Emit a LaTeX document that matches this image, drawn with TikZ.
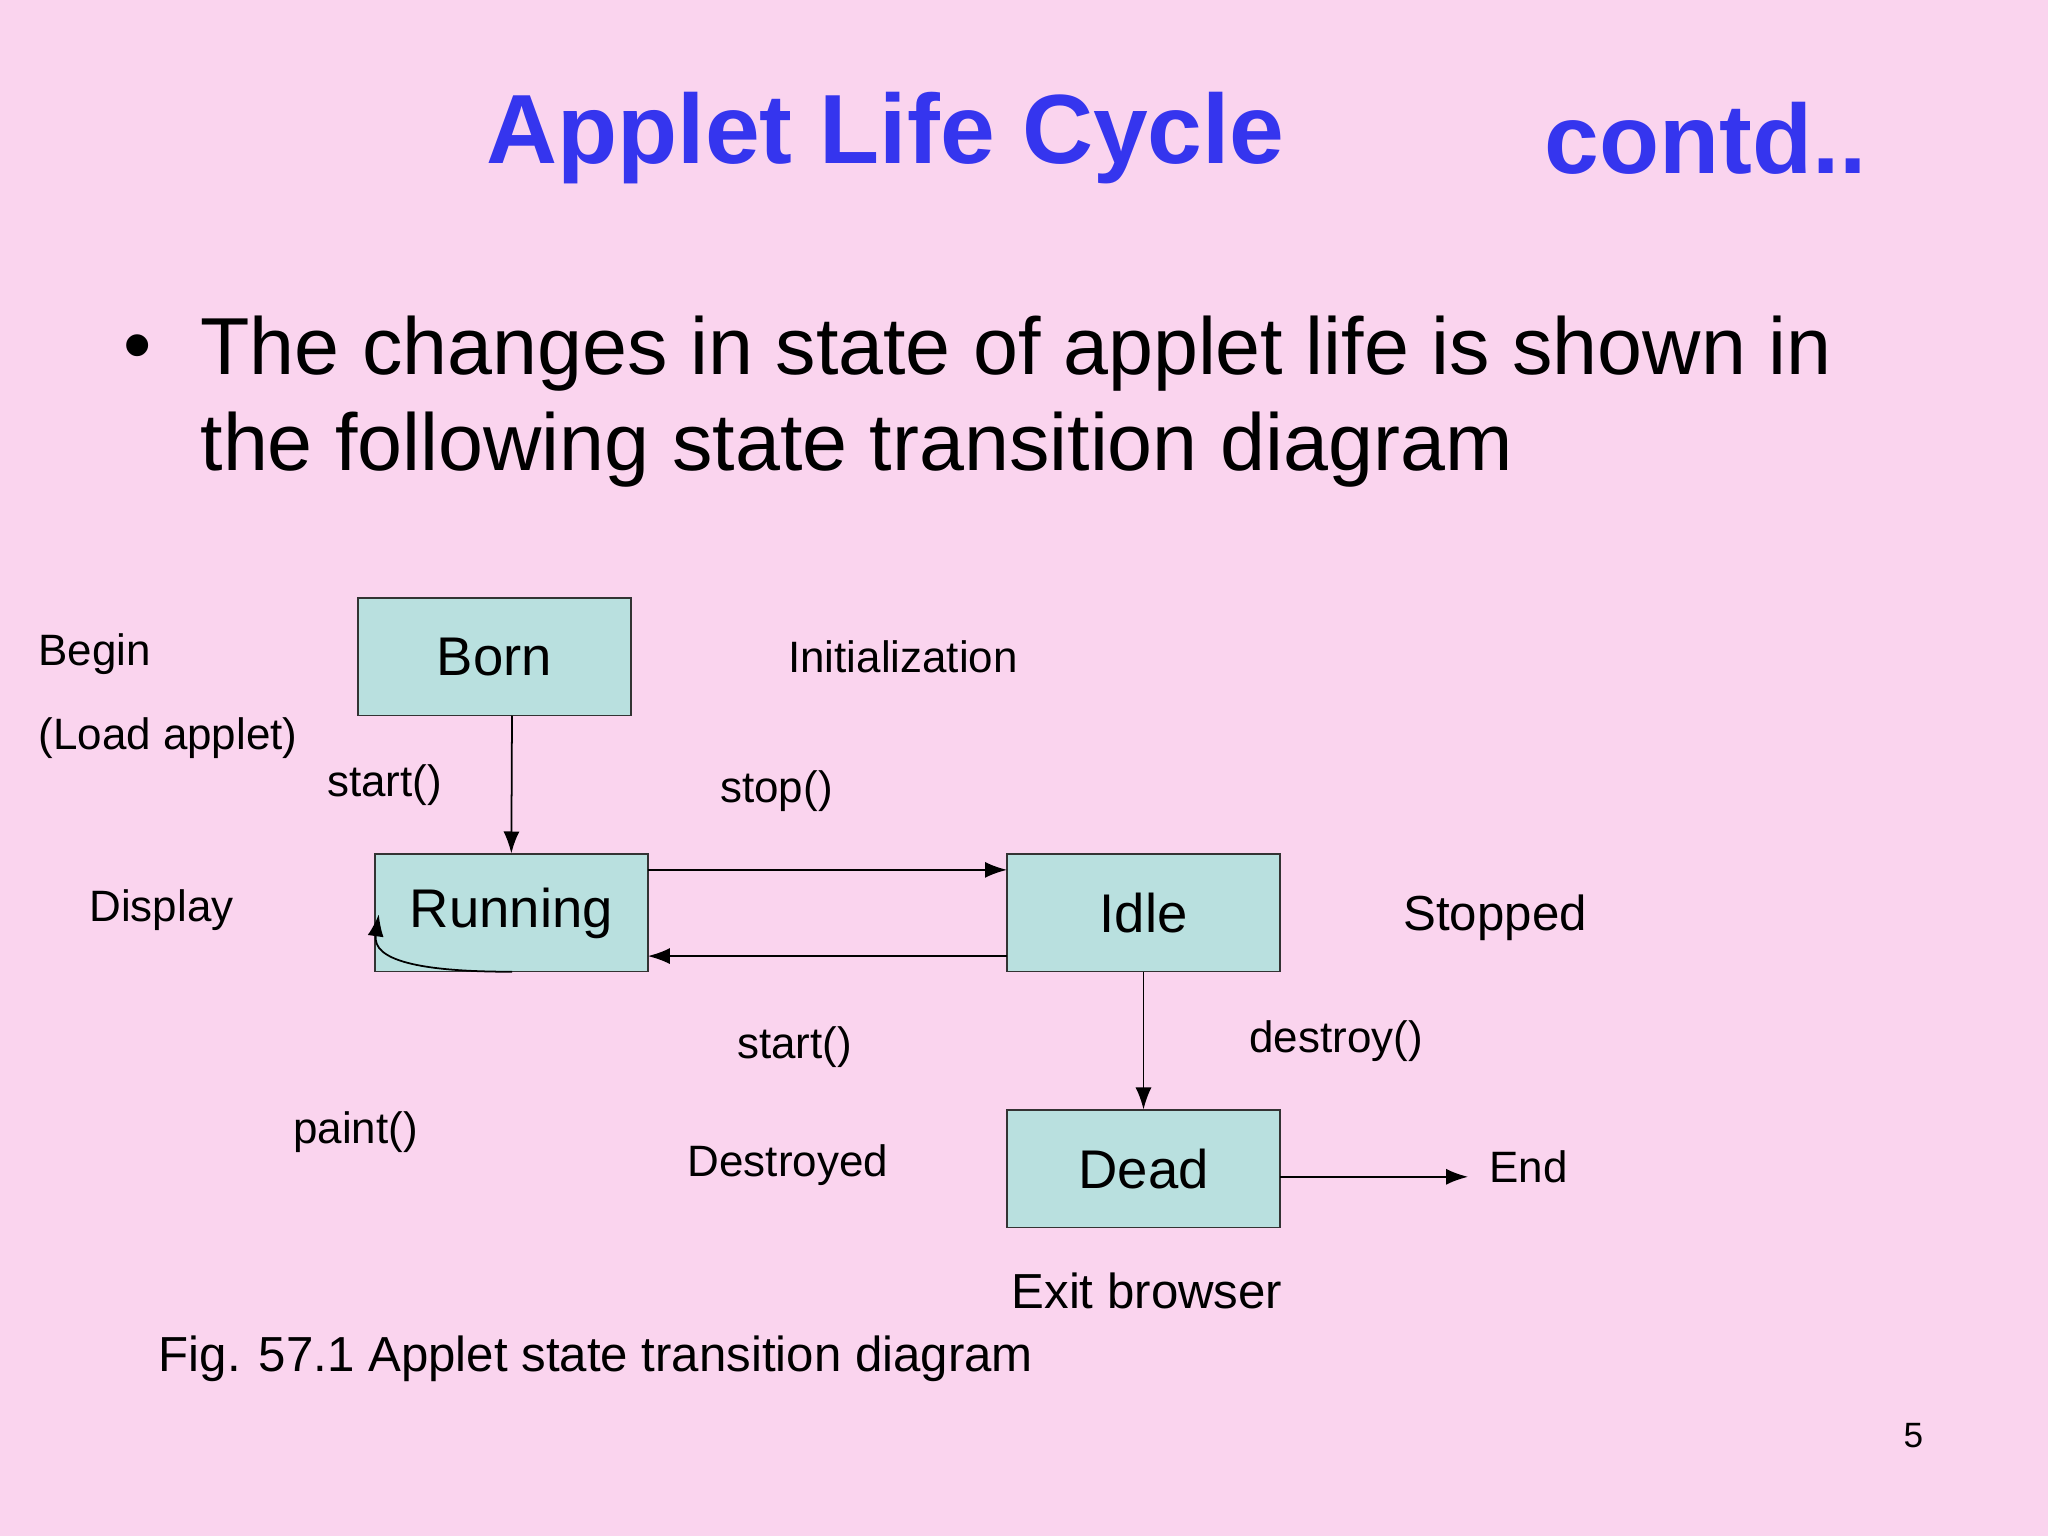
\documentclass[tikz,border=0pt]{standalone}
\usepackage{fontspec}
\setmainfont{Liberation Sans}
\usetikzlibrary{arrows.meta}
\definecolor{bg}{HTML}{FAD4EE}
\definecolor{boxfill}{HTML}{B9E0DF}
\definecolor{ttl}{HTML}{3535EE}
\tikzset{
 st/.style={draw=black!80,fill=boxfill,minimum width=209*0.013061cm,minimum height=90*0.013061cm,inner sep=0pt,font=\fontsize{15.5}{18}\selectfont},
 lbl/.style={anchor=west,inner sep=0pt,font=\fontsize{12.5}{15}\selectfont},
 arr/.style={-{Latex[length=2.2mm,width=1.6mm]},black,line width=0.5pt}
}
\begin{document}
\begin{tikzpicture}[x=0.013061cm,y=-0.013061cm]
\fill[bg] (0,0) rectangle (1568,1176);
\useasboundingbox (0,0) rectangle (1568,1176);
\node[font=\fontsize{28}{32}\selectfont\bfseries,text=ttl] (t1) at (678,106) {Applet Life Cycle};
\node[font=\fontsize{28}{32}\selectfont\bfseries,text=ttl] (t2) at (1306,106) {contd..};
\node[anchor=west,inner sep=0pt,font=\fontsize{23}{26}\selectfont] (b0) at (94,271) {•};
\node[anchor=west,inner sep=0pt,font=\fontsize{23}{26}\selectfont] (b1) at (153,271) {The changes in state of applet life is shown in};
\node[anchor=west,inner sep=0pt,font=\fontsize{23}{26}\selectfont] (b2) at (153,344) {the following state transition diagram};
\node[st] (born) at (378.5,503) {Born};
\node[st] (run) at (391.5,699) {Running};
\node[st] (idle) at (875.5,699) {Idle};
\node[st] (dead) at (875.5,895) {Dead};
\coordinate (end) at (1124,901);
\draw[arr] (392,548) -- (run.north);
\draw[arr] (496,666) -- (771,666);
\draw[arr] (771,732) -- (496,732);
\draw[arr] (idle.south) -- (dead.north);
\draw[arr] (980,901) -- (end);
\draw[arr] (392,744) .. controls (320,744) and (285,735) .. (290,700);
\node[lbl] (l1) at (29,501) {Begin};
\node[lbl] (l2) at (29,565) {(Load applet)};
\node[lbl] (l3) at (250,601) {start()};
\node[lbl] (l4) at (603,503) {Initialization};
\node[lbl] (l5) at (551,606) {stop()};
\node[lbl] (l6) at (68,697) {Display};
\node[lbl,font=\fontsize{14}{17}\selectfont] (l7) at (1074,703) {Stopped};
\node[lbl] (l8) at (564,802) {start()};
\node[lbl] (l9) at (956,797) {destroy()};
\node[lbl] (l10) at (224,867) {paint()};
\node[lbl] (l11) at (526,892) {Destroyed};
\node[lbl] (l12) at (1140,893) {End};
\node[lbl,font=\fontsize{14}{17}\selectfont] (l13) at (774,988) {Exit browser};
\node[lbl,font=\fontsize{14}{17}\selectfont] (cap) at (121,1040) {Fig. 57.1 Applet state transition diagram};
\node[lbl,font=\fontsize{10}{12}\selectfont] (pg) at (1457,1099) {5};
\end{tikzpicture}
\end{document}
